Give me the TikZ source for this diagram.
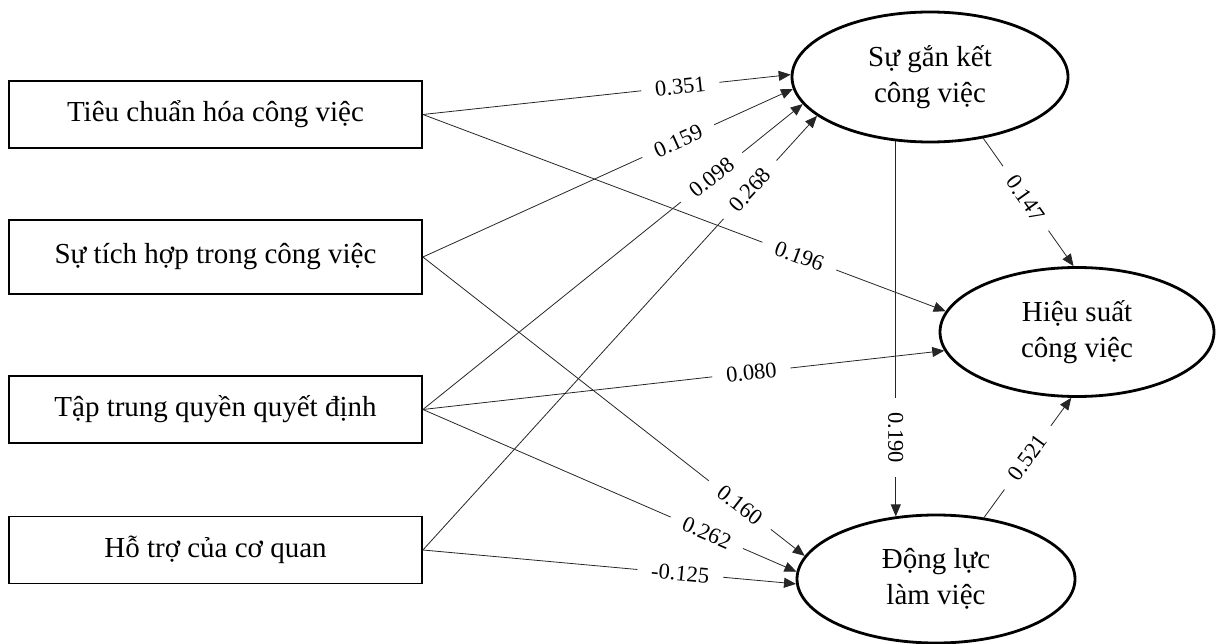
\documentclass[tikz,border=0pt]{standalone}
\usepackage{fontspec}
\setmainfont{Liberation Serif}
\usetikzlibrary{shapes.geometric,arrows.meta}
\begin{document}
\begin{tikzpicture}[x=1pt,y=-1pt,
  box/.style={draw, line width=1.8pt, minimum width=413pt, minimum height=67pt, inner sep=0pt, font=\fontsize{29}{36}\selectfont},
  lat/.style={draw, ellipse, line width=2.8pt, inner sep=0pt, align=center, font=\fontsize{29}{36}\selectfont},
  conn/.style={line width=0.8pt, draw={black!85}, -{Triangle[length=12pt,width=10pt]}},
  lbl/.style={fill=white, inner xsep=14pt, inner ysep=1pt, font=\fontsize{22.5}{27}\selectfont}]
\useasboundingbox (0,0) rectangle (1218,644);

% exogenous boxes
\node[box] (b1) at (215.5,114.5) {Tiêu chuẩn hóa công việc};
\node[box, minimum height=74pt] (b2) at (215.5,257) {Sự tích hợp trong công việc};
\node[box] (b3) at (215.5,409.5) {Tập trung quyền quyết định};
\node[box] (b4) at (215.5,550) {Hỗ trợ của cơ quan};

% latent ellipses
\node[lat, minimum width=276pt, minimum height=130pt] (top) at (930,77) {Sự gắn kết\\công việc};
\node[lat, minimum width=274pt, minimum height=129pt] (mid) at (1077,332) {Hiệu suất\\công việc};
\node[lat, minimum width=278pt, minimum height=128pt] (bot) at (936,579) {Động lực\\làm việc};

% paths to top ellipse
\draw[conn] (b1.east) -- node[lbl, sloped, pos=0.70] {0.351} (top.179);
\draw[conn] (b2.east) -- node[lbl, sloped, pos=0.69] {0.159} (top.185.3);
\draw[conn] (b3.east) -- node[lbl, sloped, pos=0.76] {0.098} (top.192.4);
\draw[conn] (b4.east) -- node[lbl, sloped, pos=0.83] {0.268} (top.199.3);

% paths to middle ellipse
\draw[conn] (b1.east) -- node[lbl, sloped, pos=0.72] {0.196} (mid.171);
\draw[conn] (b3.east) -- node[lbl, sloped, pos=0.63] {0.080} (mid.188.5);

% paths to bottom ellipse
\draw[conn] (b2.east) -- node[lbl, sloped, pos=0.83] {0.160} (bot.170.6);
\draw[conn] (b3.east) -- node[lbl, sloped, pos=0.76] {0.262} (bot.177.1);
\draw[conn] (b4.east) -- node[lbl, sloped, pos=0.69] {-0.125} (bot.182.4);

% between latent variables
\draw[conn] (top.311) -- node[lbl, sloped, pos=0.47] {0.147} (mid.93.5);
\draw[conn] (top.242) -- node[lbl, rotate=-90, pos=0.79] {0.190} (top.242 |- bot.123);
\draw[conn] (bot.52.7) -- node[lbl, sloped, pos=0.50] {0.521} (mid.265.8);
\end{tikzpicture}
\end{document}
